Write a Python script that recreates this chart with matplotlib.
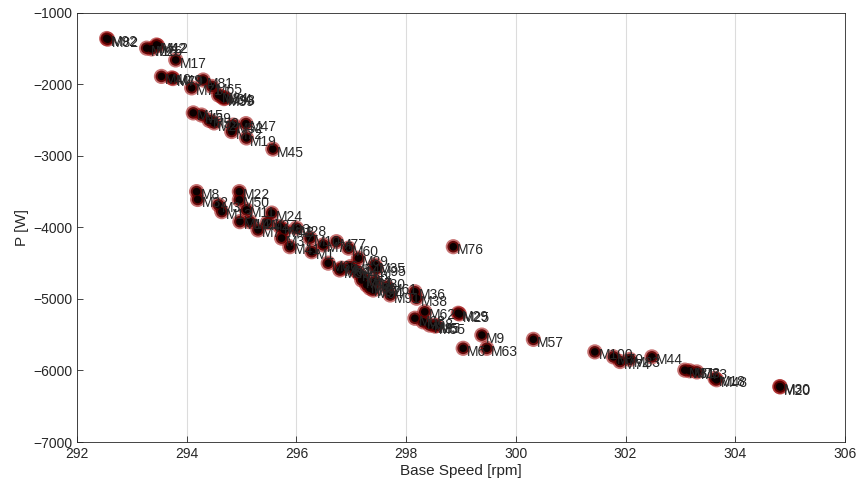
import numpy as np
import matplotlib
matplotlib.use('Agg')
import matplotlib.pyplot as plt

plt.rcParams['font.family'] = ['Liberation Sans', 'DejaVu Sans']

# motor label, base speed [rpm], power [W]
names = ['M92', 'M82', 'M16', 'M26', 'M42', 'M12', 'M17', 'M40', 'M49', 'M79',
         'M71', 'M81', 'M65', 'M84', 'M34', 'M39', 'M93', 'M15', 'M69', 'M59',
         'M2', 'M52', 'M72', 'M47', 'M19', 'M45',
         'M8', 'M32', 'M3', 'M13', 'M22', 'M50', 'M11', 'M14', 'M21', 'M7',
         'M27', 'M24', 'M33', 'M37', 'M41', 'M28', 'M43', 'M10', 'M1', 'M75',
         'M77', 'M60', 'M66', 'M64', 'M89', 'M4', 'M35', 'M95', 'M51', 'M80',
         'M61', 'M87', 'M91', 'M53', 'M54', 'M56', 'M67', 'M86', 'M94',
         'M76', 'M36', 'M38', 'M62', 'M68', 'M58', 'M85', 'M55', 'M5', 'M29',
         'M25', 'M9', 'M6', 'M63', 'M57', 'M100', 'M70', 'M74', 'M83', 'M44',
         'M31', 'M78', 'M73', 'M18', 'M48', 'M30', 'M20']
speed = [292.54, 292.56, 293.27, 293.36, 293.45, 293.47, 293.80, 293.54, 293.73, 293.75,
         294.09, 294.30, 294.46, 294.58, 294.64, 294.68, 294.70, 294.12, 294.27, 294.41,
         294.50, 294.85, 294.82, 295.08, 295.09, 295.57,
         294.18, 294.20, 294.58, 294.64, 294.96, 294.96, 295.09, 294.97, 295.15, 295.30,
         295.47, 295.55, 295.70, 295.73, 295.88, 296.00, 295.78, 296.25, 296.28, 296.49,
         296.73, 296.95, 296.58, 296.82, 297.13, 297.07, 297.43, 297.46, 297.22, 297.43,
         297.65, 297.34, 297.71, 296.79, 296.98, 297.13, 297.19, 297.28, 297.40,
         298.86, 298.16, 298.19, 298.34, 298.16, 298.31, 298.43, 298.53, 298.55, 298.95,
         298.97, 299.38, 299.04, 299.47, 300.32, 301.44, 301.78, 301.90, 302.08, 302.48,
         303.08, 303.17, 303.30, 303.63, 303.66, 304.81, 304.82]
power = [-1360, -1370, -1495, -1505, -1450, -1460, -1660, -1890, -1910, -1920,
         -2050, -1940, -2030, -2150, -2175, -2200, -2190, -2400, -2430, -2505,
         -2540, -2570, -2660, -2550, -2750, -2905,
         -3500, -3610, -3685, -3780, -3500, -3615, -3755, -3920, -3920, -4035,
         -3935, -3800, -3990, -4150, -4270, -4010, -4035, -4150, -4340, -4245,
         -4200, -4290, -4500, -4570, -4430, -4595, -4525, -4575, -4710, -4760,
         -4830, -4850, -4945, -4595, -4550, -4640, -4735, -4805, -4875,
         -4270, -4900, -4990, -5180, -5270, -5320, -5365, -5380, -5370, -5200,
         -5210, -5505, -5690, -5690, -5565, -5740, -5810, -5875, -5845, -5810,
         -5995, -6005, -6020, -6110, -6130, -6225, -6230]

fig = plt.figure(figsize=(8.61, 4.98), dpi=100)
ax = fig.add_axes([0.0894, 0.1124, 0.892, 0.862])

# soft dark-red halo with a black core, like the jpeg'd matlab markers
ax.scatter(speed, power, s=120, c='#9a0000', edgecolors='none', alpha=0.55, zorder=3)
ax.scatter(speed, power, s=70, c='#5a0000', edgecolors='none', alpha=0.9, zorder=3)
ax.scatter(speed, power, s=30, c='#0a0000', edgecolors='none', zorder=4)
for n, x, y in zip(names, speed, power):
    ax.text(x + 0.07, y - 50, n, fontsize=10, color='#262626', va='center', ha='left', zorder=5)

ax.set_xlim(292, 306)
ax.set_ylim(-7000, -1000)
ax.set_xticks(np.arange(292, 307, 2))
ax.set_yticks(np.arange(-7000, -999, 1000))
ax.grid(True, axis='x', color='#dcdcdc', linewidth=0.8)
ax.set_axisbelow(True)
ax.tick_params(direction='in', length=4, labelsize=10, colors='#262626', width=0.6)
for s in ax.spines.values():
    s.set_color('#262626')
    s.set_linewidth(0.6)
ax.set_xlabel('Base Speed [rpm]', fontsize=11, color='#262626', labelpad=2)
ax.set_ylabel('P [W]', fontsize=11, color='#262626', labelpad=3)

fig.savefig('out.png', dpi=100)
